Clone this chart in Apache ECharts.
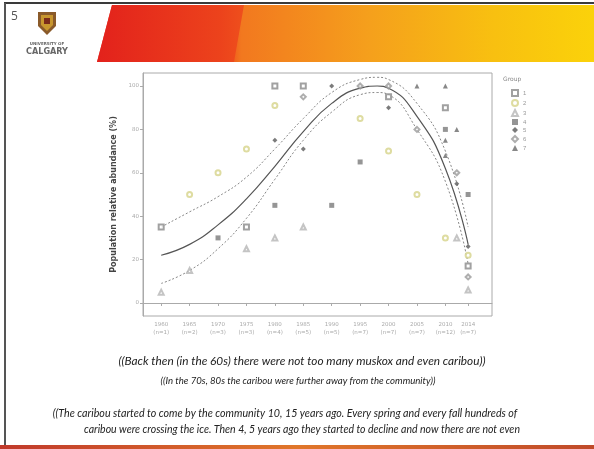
<!DOCTYPE html>
<html><head><meta charset="utf-8">
<script src="https://cdn.jsdelivr.net/npm/echarts@6/dist/echarts.min.js"></script>
<style>html,body{margin:0;padding:0;background:#fff}#c{width:594px;height:449px}</style>
</head><body><div id="c"></div>
<script>
// ---- data ----
const xTickYears = [1960,1965,1970,1975,1980,1985,1990,1995,2000,2005,2010,2014];
const xTickLabels = ['1960\n(n=1)','1965\n(n=2)','1970\n(n=3)','1975\n(n=3)','1980\n(n=4)','1985\n(n=5)','1990\n(n=5)','1995\n(n=7)','2000\n(n=7)','2005\n(n=7)','2010\n(n=12)','2014\n(n=7)'];
const yTicks = [0,20,40,60,80,100];
const groupNames = ['1','2','3','4','5','6','7'];
const group1 = [[1960,35],[1975,35],[1980,100],[1985,100],[2000,95],[2010,90],[2014,17]];
const group2 = [[1965,50],[1970,60],[1975,71],[1980,91],[1995,85],[2000,70],[2005,50],[2010,30],[2014,22]];
const group3 = [[1960,5],[1965,15],[1975,25],[1980,30],[1985,35],[2012,30],[2014,6]];
const group4 = [[1970,30],[1980,45],[1990,45],[1995,65],[2010,80],[2014,50]];
const group5 = [[1980,75],[1985,71],[1990,100],[2000,90],[2012,55],[2014,26]];
const group6 = [[1985,95],[1995,100],[2000,100],[2005,80],[2012,60],[2014,12]];
const group7 = [[2005,100],[2010,100],[2010,75],[2012,80],[2010,68]];
const fitYears = [1960,1965,1970,1975,1980,1985,1990,1995,1998,2000,2005,2010,2014];
const fitMid   = [22,27,36,48,63,79,92,99,100,99,86,62,27];
const fitUpper = [35,42,49,58,71,85,97,103,104,103,92,70,35];
const fitLower = [9,15,25,39,57,75,88,96,97,96,80,56,18];
const captions = [
 '((Back then (in the 60s) there were not too many muskox and even caribou))',
 '((In the 70s, 80s the caribou were further away from the community))',
 '((The caribou started to come by the community 10, 15 years ago. Every spring and every fall hundreds of',
 'caribou were crossing the ice. Then 4, 5 years ago they started to decline and now there are not even'
];
// ---- chart ----
const groups = [group1,group2,group3,group4,group5,group6,group7];
const gColors = ['#8a8a8a','#d6d38a','#b5b5b5','#7a7a7a','#5a5a5a','#9a9a9a','#6a6a6a'];
const gSymbols = ['emptyRect','emptyCircle','emptyTriangle','rect','diamond','emptyDiamond','triangle'];
const zip = (xs, ys) => xs.map((x,i)=>[x,ys[i]]);
const labelMap = {}; xTickYears.forEach((y,i)=>labelMap[y]=xTickLabels[i]);
const chart = echarts.init(document.getElementById('c'), null, {renderer:'canvas'});
const series = groups.map((g,i)=>({
  name: groupNames[i], type:'scatter', data:g, symbol:gSymbols[i], symbolSize:5,
  itemStyle:{color:gColors[i]}, z:3
}));
series.push({type:'line', data:zip(fitYears,fitUpper), smooth:0.5, symbol:'none', lineStyle:{color:'#888',width:1,type:[2,2]}, z:2, silent:true});
series.push({type:'line', data:zip(fitYears,fitLower), smooth:0.5, symbol:'none', lineStyle:{color:'#888',width:1,type:[2,2]}, z:2, silent:true});
series.push({type:'line', data:zip(fitYears,fitMid), smooth:0.5, symbol:'none', lineStyle:{color:'#555',width:1.2}, z:2, silent:true});
const capY = [361,381,414,430];
const capX = [302,298,285,302];
const capSize = [11.8,9.6,10.7,10.5];
const graphics = [
  {type:'line', shape:{x1:4,y1:3,x2:594,y2:3}, style:{stroke:'#3a3a3a',lineWidth:2}},
  {type:'line', shape:{x1:5,y1:3,x2:5,y2:449}, style:{stroke:'#555',lineWidth:2}},
  {type:'polygon', shape:{points:[[112,5],[594,5],[594,62],[97,62]]},
    style:{fill:new echarts.graphic.LinearGradient(0,0,1,0,[
      {offset:0,color:'#e01e1a'},{offset:0.25,color:'#ec3a1a'},{offset:0.29,color:'#f2781f'},
      {offset:0.55,color:'#f5a01c'},{offset:0.8,color:'#f8c010'},{offset:1,color:'#fbd20a'}])}},
  {type:'polygon', shape:{points:[[112,5],[244,5],[234,62],[97,62]]},
    style:{fill:new echarts.graphic.LinearGradient(0,0,1,0,[{offset:0,color:'#e3221c'},{offset:1,color:'#ee4a1c'}]), opacity:0.9}},
  {type:'rect', shape:{x:0,y:445,width:594,height:4},
    style:{fill:new echarts.graphic.LinearGradient(0,0,1,0,[{offset:0,color:'#c0392b'},{offset:0.5,color:'#e0762a'},{offset:1,color:'#c04a2a'}])}},
  {type:'text', style:{text:'5', x:11, y:11, font:'12px "Open Sans"', fill:'#555'}},
  {type:'polygon', shape:{points:[[38,12],[56,12],[56,26],[47,35],[38,26]]}, style:{fill:'#8a5a2a'}},
  {type:'polygon', shape:{points:[[41,15],[53,15],[53,25],[47,31],[41,25]]}, style:{fill:'#c8962e'}},
  {type:'rect', shape:{x:44,y:18,width:6,height:6}, style:{fill:'#7a2a1a'}},
  {type:'text', style:{text:'UNIVERSITY OF', x:47, y:42, align:'center', font:'bold 4px "DejaVu Sans"', fill:'#666'}},
  {type:'text', style:{text:'CALGARY', x:47, y:47, align:'center', font:'bold 9px "DejaVu Sans Condensed"', fill:'#666'}},
  {type:'text', style:{text:'Group', x:503, y:76, font:'6px "DejaVu Sans"', fill:'#888'}}
];
captions.forEach((t,i)=>graphics.push({type:'text', style:{text:t, x:capX[i], y:capY[i], align:'center', verticalAlign:'middle', font:'italic '+capSize[i]+'px Lato', fill:'#222'}}));
chart.setOption({
  animation:false,
  backgroundColor:'#fff',
  grid:{left:143, top:73, width:349, height:243, show:true, borderColor:'#aaa', borderWidth:1},
  legend:{data:groupNames, orient:'vertical', left:506, top:84, itemWidth:6, itemHeight:6, itemGap:2,
    textStyle:{fontSize:6, color:'#999'}},
  xAxis:{type:'value', min:1956.8, max:2018.2, splitLine:{show:false},
    axisLine:{show:true, lineStyle:{color:'#aaa'}},
    axisTick:{show:true, customValues:xTickYears, length:3, lineStyle:{color:'#aaa'}},
    axisLabel:{customValues:xTickYears, formatter:v=>labelMap[v]||'', fontSize:5.5, color:'#aaa', lineHeight:8, margin:5, fontFamily:'DejaVu Sans'}},
  yAxis:{type:'value', min:-6, max:106, splitLine:{show:false},
    name:'Population relative abundance (%)', nameLocation:'middle', nameGap:19,
    nameTextStyle:{fontSize:8, color:'#444', fontWeight:'bold', fontFamily:'DejaVu Sans'},
    axisLine:{show:true, lineStyle:{color:'#aaa'}},
    axisTick:{show:true, customValues:yTicks, length:3, lineStyle:{color:'#aaa'}},
    axisLabel:{customValues:yTicks, fontSize:5.5, color:'#aaa', margin:4, fontFamily:'DejaVu Sans'}},
  series:series,
  graphic:graphics
});
</script></body></html>
